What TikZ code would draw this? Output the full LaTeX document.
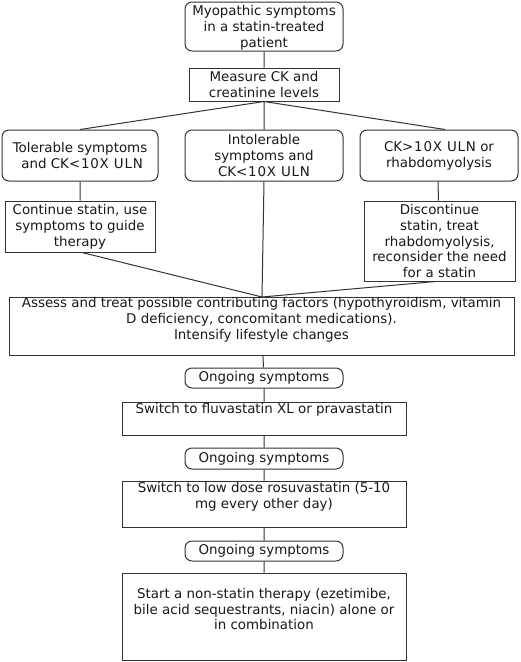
\documentclass[tikz,border=0pt]{standalone}
\usepackage{fontspec}
\setmainfont{DejaVu Sans}
\newfontfamily\ulnfont[LetterSpace=6]{DejaVu Sans}
\newcommand{\uln}[1]{{\ulnfont #1}}
\begin{document}
\begin{tikzpicture}[x=1pt,y=-1pt,
  box/.style={draw=black!80,line width=1pt,inner sep=0pt,fill=white},
  rbox/.style={box,rounded corners=7pt},
  txt/.style={align=center,inner sep=0pt,text=black!90,font=\fontsize{13.4}{15.9}\selectfont},
  conn/.style={draw=black!80,line width=1pt}]
\useasboundingbox (0,0) rectangle (520,662);
% boxes
\node[rbox,minimum width=158,minimum height=49] (b1) at (264,26.5) {};
\node[box,minimum width=150,minimum height=33] (b2) at (264,84.5) {};
\node[rbox,minimum width=156,minimum height=51] (b3l) at (80,155.5) {};
\node[rbox,minimum width=158,minimum height=51] (b3m) at (264,155.5) {};
\node[rbox,minimum width=158,minimum height=51] (b3r) at (439,155.5) {};
\node[box,minimum width=150,minimum height=51] (b4l) at (80,226.5) {};
\node[box,minimum width=151,minimum height=80] (b4r) at (439.5,241) {};
\node[box,minimum width=505,minimum height=58] (as) at (261.5,326) {};
\node[rbox,minimum width=158,minimum height=20] (o1) at (264,378) {};
\node[box,minimum width=284,minimum height=33] (s1) at (264,418.5) {};
\node[rbox,minimum width=158,minimum height=21] (o2) at (264,458.5) {};
\node[box,minimum width=284,minimum height=46] (s2) at (264,504) {};
\node[rbox,minimum width=158,minimum height=20] (o3) at (264,551) {};
\node[box,minimum width=284,minimum height=87] (fn) at (264,616.5) {};
% texts
\node[txt] (t1) at (264,27.5) {Myopathic symptoms\\in a statin-treated\\patient};
\node[txt] (t2) at (b2) {Measure CK and\\creatinine levels};
\node[txt] (t3l) at (b3l) {Tolerable symptoms\\\ and CK\uln{<10X ULN}};
\node[txt] (t3m) at (b3m) {Intolerable\\symptoms and\\CK\uln{<10X ULN}};
\node[txt] (t3r) at (b3r) {CK\uln{>10X ULN} or\\rhabdomyolysis};
\node[txt] (t4l) at (b4l) {Continue statin, use\\symptoms to guide\\therapy};
\node[txt] (t4r) at (b4r) {Discontinue\\statin, treat\\rhabdomyolysis,\\reconsider the need\\for a statin};
\node[txt] (tas) at (261.5,319.5) {Assess and treat possible contributing factors (hypothyroidism, vitamin\\D deficiency, concomitant medications).\\Intensify lifestyle changes};
\node[txt] (to1) at (o1) {Ongoing symptoms};
\node[txt] (ts1) at (264,410) {Switch to fluvastatin XL or pravastatin};
\node[txt] (to2) at (o2) {Ongoing symptoms};
\node[txt] (ts2) at (264,496.5) {Switch to low dose rosuvastatin (5-10\\mg every other day)};
\node[txt] (to3) at (o3) {Ongoing symptoms};
\node[txt] (tfn) at (264,609) {Start a non-statin therapy (ezetimibe,\\bile acid sequestrants, niacin) alone or\\in combination};
% connectors
\coordinate (asn) at (262,297);
\path[conn] (b1) -- (b2)
  (b2.south) -- (b3l.north)
  (b2.south) -- (b3m.north)
  (b2.south) -- ([xshift=6]b3r.north)
  (b3l) -- (b4l)
  ([xshift=-1]b3r.south) -- ([xshift=-1]b4r.north)
  (b3m.south) -- (asn)
  ([xshift=2]b4l.south) -- (asn)
  ([xshift=-4]b4r.south) -- (asn)
  (as) -- (o1)
  (o1) -- (s1)
  (s1) -- (o2)
  (o2) -- (s2)
  (s2) -- (o3)
  (o3) -- (fn);
\end{tikzpicture}
\end{document}
